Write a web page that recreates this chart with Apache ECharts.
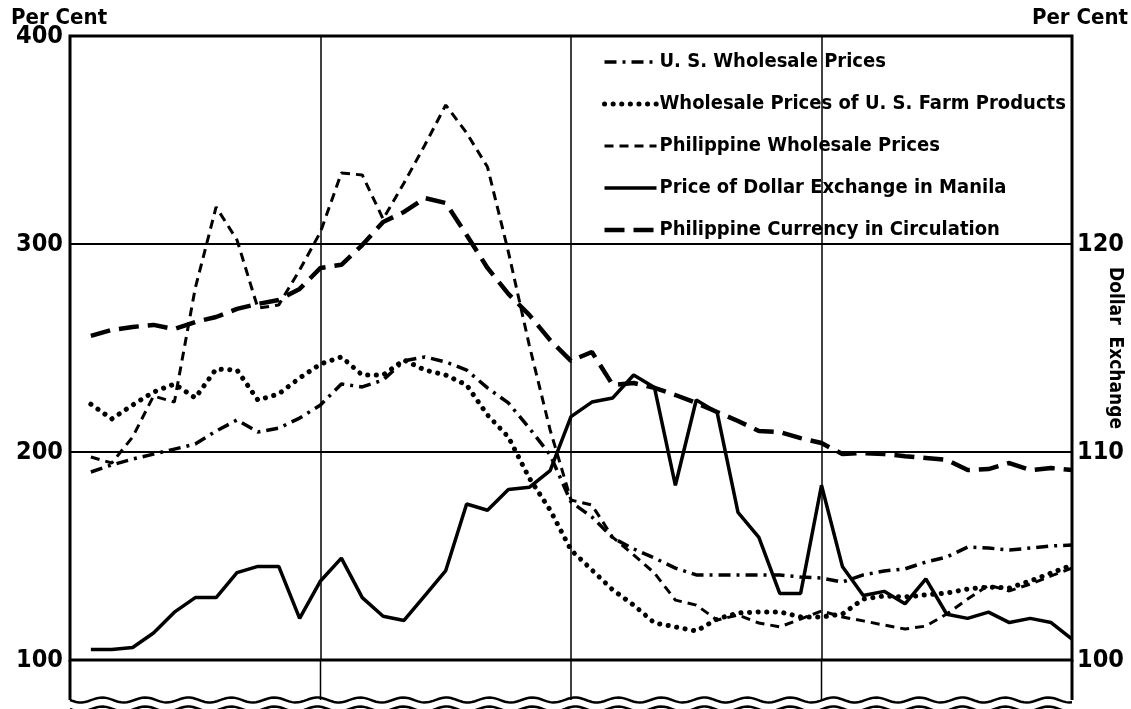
<!DOCTYPE html>
<html>
<head>
<meta charset="utf-8">
<script src="https://cdn.jsdelivr.net/npm/echarts@6/dist/echarts.min.js"></script>
<style>
  html, body { margin: 0; padding: 0; background: #fff; }
  #chart { width: 1131px; height: 709px; }
</style>
</head>
<body>
<div id="chart"></div>
<script type="text/javascript">
// monthly readings, month 1 .. 48 (grid lines every 12 months)
var usWholesale = [190.4, 193.8, 196.6, 199, 201.4, 203.8, 210.1, 215.4, 209.6, 211.5, 216.3, 222.6,
  232.7, 231.3, 234.6, 243.8, 245.7, 243.3, 239.4, 230.8, 223.6, 211.5, 198.6, 176,
  168.8, 158.7, 153.4, 149, 144.2, 140.9, 140.9, 140.9, 140.9, 140.9, 139.9, 139.4,
  137.5, 140.9, 142.8, 143.8, 147.1, 149.5, 154.3, 153.8, 152.9, 153.8, 154.8, 155.3];
var farmProducts = [223, 215.9, 222.6, 228.8, 232.7, 226, 239.9, 239.4, 225, 227.9, 235.6, 242.3,
  245.7, 237, 237, 244.2, 239.4, 237, 232.2, 217.8, 207.2, 187.5, 172.1, 152.9,
  143.3, 133.7, 126.4, 117.8, 115.9, 113.9, 119.7, 122.6, 123.1, 123.1, 120.7, 120.7,
  122.1, 129.3, 130.8, 130.3, 131.3, 132.2, 134.1, 135.1, 134.6, 138, 141.8, 145.7];
var philWholesale = [197.6, 194.7, 207.2, 226.9, 224, 278.8, 317.8, 301.9, 269.2, 270.7, 287.5, 305.8,
  334.1, 333.2, 312, 329.3, 347.6, 366.8, 353.4, 337, 296.2, 251.4, 210.6, 176.9,
  174.5, 159, 150.5, 141.8, 128.8, 126.4, 119.2, 121.6, 117.8, 115.9, 119.7, 123.6,
  120.7, 118.8, 116.8, 114.9, 116.3, 122.1, 129.3, 136, 133.2, 136.5, 140.4, 144.2];
var dollarExchange = [100.5, 100.5, 100.6, 101.3, 102.3, 103.0, 103.0, 104.2, 104.5, 104.5, 102.0, 103.8,
  104.9, 103.0, 102.1, 101.9, 103.1, 104.3, 107.5, 107.2, 108.2, 108.3, 109.1, 111.7,
  112.4, 112.6, 113.7, 113.1, 108.4, 112.5, 111.9, 107.1, 105.9, 103.2, 103.2, 108.4,
  104.5, 103.1, 103.3, 102.7, 103.9, 102.2, 102.0, 102.3, 101.8, 102.0, 101.8, 101.0];
var currency = [255.8, 258.7, 260.1, 261.1, 259.1, 262.5, 264.9, 268.8, 271.2, 273.1, 278.4, 288.5,
  290, 299.5, 310.6, 315.4, 322.1, 319.7, 304.3, 288.5, 276, 265.9, 253.8, 243.8,
  248.1, 232.2, 233.2, 230.8, 227.4, 223.6, 219.2, 214.9, 210.1, 209.6, 206.7, 204.3,
  199, 199.5, 199, 198, 197.1, 196.2, 191.3, 191.8, 194.7, 191.3, 192.3, 191.3];

var leftTicks = [100, 200, 300, 400];
var rightTicks = [100, 110, 120];
var seriesNames = ['U. S. Wholesale Prices', 'Wholesale Prices of U. S. Farm Products',
  'Philippine Wholesale Prices', 'Price of Dollar Exchange in Manila', 'Philippine Currency in Circulation'];

var FONT = '"DejaVu Sans Condensed", "Liberation Sans Narrow", sans-serif';

function pairs(arr) {
  return arr.map(function (v, i) { return [i + 1, v]; });
}

var chart = echarts.init(document.getElementById('chart'));
var option = {
  animation: false,
  backgroundColor: '#fff',
  grid: {
    left: 70, right: 59, top: 36, bottom: 49, outerBoundsMode: 'none', containLabel: false,
    show: true, borderColor: '#000', borderWidth: 3
  },
  legend: {
    orient: 'vertical', left: 602, top: 52, padding: 0,
    itemWidth: 52, itemHeight: 20, itemGap: 22,
    data: seriesNames,
    itemStyle: { color: 'rgba(0,0,0,0)', borderWidth: 0, opacity: 0 },
    lineStyle: { width: 'inherit', type: 'inherit', cap: 'inherit' },
    textStyle: { fontFamily: FONT, fontWeight: 'bold', fontSize: 20, color: '#000', padding: [0, 0, 0, -2] }
  },
  xAxis: {
    type: 'value', min: 0, max: 48, interval: 12,
    axisLine: { show: false }, axisTick: { show: false }, axisLabel: { show: false },
    splitLine: { show: true, lineStyle: { color: '#000', width: 1.5 } }
  },
  yAxis: [{
    type: 'value', min: 100, max: 400, interval: 100,
    axisLine: { show: false }, axisTick: { show: false },
    axisLabel: {
      margin: 7, fontFamily: FONT, fontWeight: 'bold', fontSize: 25, color: '#000',
      formatter: function (v) { return leftTicks.indexOf(v) >= 0 ? String(v) : ''; }
    },
    splitLine: { show: true, lineStyle: { color: '#000', width: 2 } }
  }, {
    type: 'value', min: 100, max: 130, interval: 10, position: 'right',
    axisLine: { show: false }, axisTick: { show: false },
    axisLabel: {
      margin: 5, fontFamily: FONT, fontWeight: 'bold', fontSize: 25, color: '#000',
      formatter: function (v) { return rightTicks.indexOf(v) >= 0 ? String(v) : ''; }
    },
    splitLine: { show: false }
  }],
  series: [{
    name: seriesNames[0], type: 'line', symbol: 'none', data: pairs(usWholesale),
    itemStyle: { color: '#000' },
    lineStyle: { color: '#000', width: 3.5, type: [12, 6, 3, 6] }, z: 3
  }, {
    name: seriesNames[1], type: 'line', symbol: 'none', data: pairs(farmProducts),
    itemStyle: { color: '#000' },
    lineStyle: { color: '#000', width: 5, type: [0.1, 8.5], cap: 'round' }, z: 3
  }, {
    name: seriesNames[2], type: 'line', symbol: 'none', data: pairs(philWholesale),
    itemStyle: { color: '#000' },
    lineStyle: { color: '#000', width: 3, type: [9, 6] }, z: 3
  }, {
    name: seriesNames[3], type: 'line', symbol: 'none', yAxisIndex: 1, data: pairs(dollarExchange),
    itemStyle: { color: '#000' },
    lineStyle: { color: '#000', width: 3.5 }, z: 4
  }, {
    name: seriesNames[4], type: 'line', symbol: 'none', data: pairs(currency),
    itemStyle: { color: '#000' },
    lineStyle: { color: '#000', width: 4.5, type: [20, 9] }, z: 3
  }]
};
chart.setOption(option);

// axis break below 100: extended frame lines and two wavy lines
var p0 = chart.convertToPixel({ xAxisIndex: 0, yAxisIndex: 0 }, [0, 100]);
var p1 = chart.convertToPixel({ xAxisIndex: 0, yAxisIndex: 0 }, [48, 400]);
var elements = [];
for (var m = 0; m <= 48; m += 12) {
  var xx = chart.convertToPixel({ xAxisIndex: 0 }, m);
  elements.push({
    type: 'line', shape: { x1: xx, y1: p0[1], x2: xx, y2: p0[1] + 40 },
    style: { stroke: '#000', lineWidth: (m === 0 || m === 48) ? 3 : 1.5 }
  });
}
function wave(base) {
  var pts = [];
  for (var x = p0[0]; x <= p1[0]; x += 3) {
    pts.push([x, base + 2.5 * Math.sin((x - p0[0]) / 43 * 2 * Math.PI)]);
  }
  return pts;
}
elements.push({ type: 'polyline', shape: { points: wave(p0[1] + 40) }, style: { stroke: '#000', lineWidth: 2.5, fill: null } });
elements.push({ type: 'polyline', shape: { points: wave(p0[1] + 49) }, style: { stroke: '#000', lineWidth: 2.5, fill: null } });
elements.push({ type: 'text', left: 11, top: 7, style: { text: 'Per Cent', font: 'bold 22px ' + FONT, fill: '#000' } });
elements.push({ type: 'text', right: 3, top: 7, style: { text: 'Per Cent', font: 'bold 22px ' + FONT, fill: '#000' } });
elements.push({
  type: 'text', x: 1115, y: 348, rotation: -Math.PI / 2,
  style: { text: 'Dollar  Exchange', font: 'bold 19px ' + FONT, fill: '#000', align: 'center', verticalAlign: 'middle' }
});
chart.setOption({ graphic: elements });
</script>
</body>
</html>
